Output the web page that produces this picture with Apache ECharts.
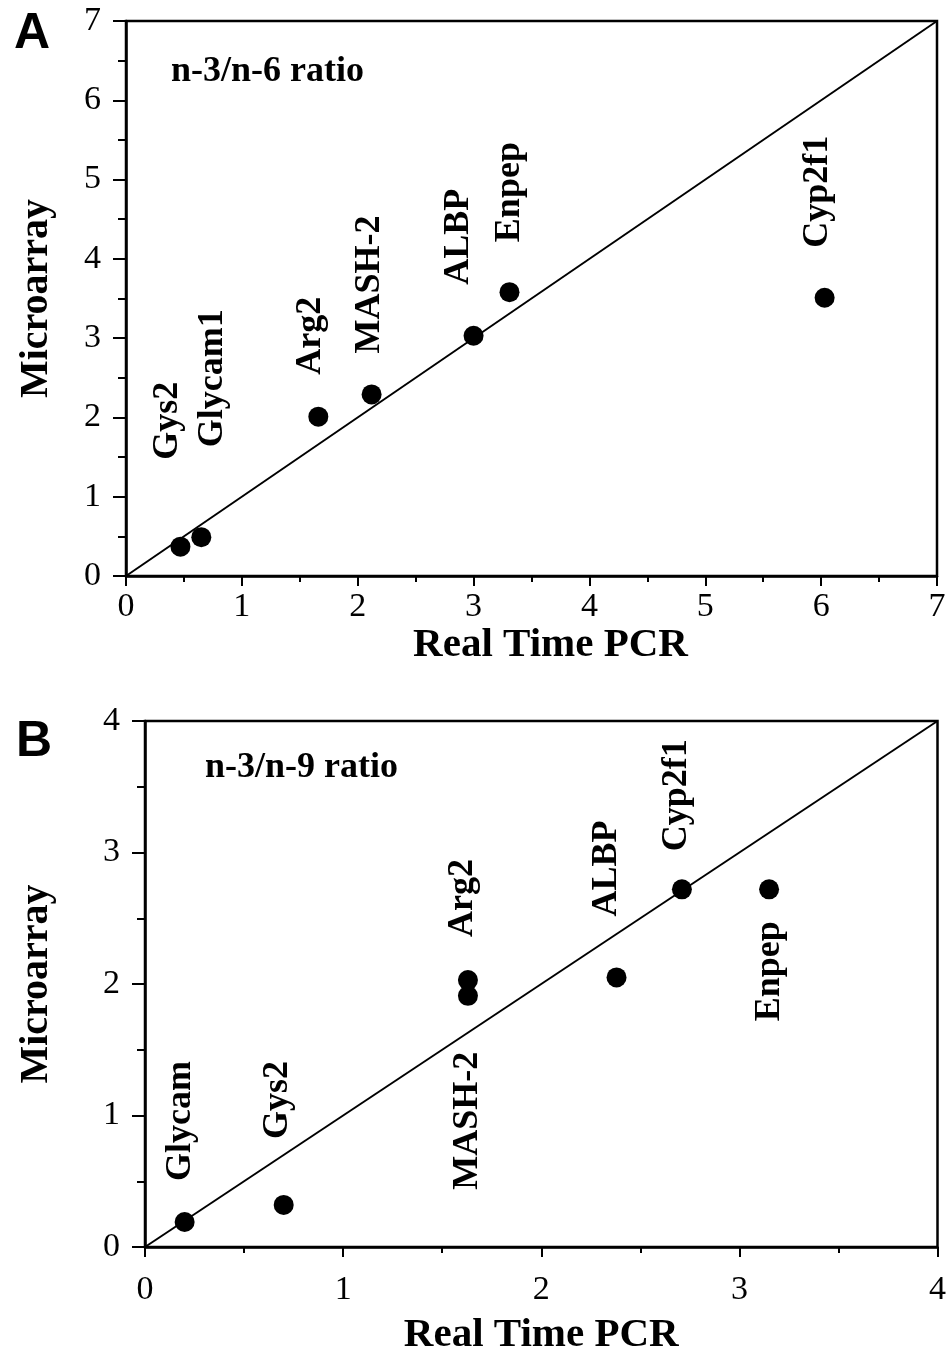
<!DOCTYPE html>
<html>
<head>
<meta charset="utf-8">
<script src="https://cdn.jsdelivr.net/npm/echarts@6/dist/echarts.min.js"></script>
<style>
html,body{margin:0;padding:0;background:#fff;}
#chart{width:949px;height:1357px;}
</style>
</head>
<body>
<div id="chart"></div>
<script>
// ---------- data ----------
const genesA = ['Gys2', 'Glycam1', 'Arg2', 'MASH-2', 'ALBP', 'Enpep', 'Cyp2f1'];
const pcrA = [0.47, 0.65, 1.66, 2.12, 3.00, 3.31, 6.03];
const microA = [0.37, 0.49, 2.01, 2.29, 3.03, 3.58, 3.51];
const identityA = [0, 7];

const genesB = ['Glycam', 'Gys2', 'Arg2', 'MASH-2', 'ALBP', 'Cyp2f1', 'Enpep'];
const pcrB = [0.20, 0.70, 1.63, 1.63, 2.38, 2.71, 3.15];
const microB = [0.19, 0.32, 2.03, 1.91, 2.05, 2.72, 2.72];
const identityB = [0, 4];

const titleA = 'n-3/n-6 ratio';
const titleB = 'n-3/n-9 ratio';
const xTitle = 'Real Time PCR';
const yTitle = 'Microarray';

// ---------- layout (label placement relative to dot centre, px) ----------
const SYM = 20;
const labelPlaceA = {
  'Gys2': [-13, -87, 'up'], 'Glycam1': [11, -90, 'up'], 'Arg2': [-8, -42, 'up'],
  'MASH-2': [-2, -41, 'up'], 'ALBP': [-15, -51, 'up'], 'Enpep': [0, -50, 'up'],
  'Cyp2f1': [-7, -50, 'up']
};
const labelPlaceB = {
  'Glycam': [-4, -41, 'up'], 'Gys2': [-6, -66, 'up'], 'Arg2': [-5, -43, 'up'],
  'MASH-2': [0, 56, 'down'], 'ALBP': [-10, -61, 'up'], 'Cyp2f1': [-5, -38, 'up'],
  'Enpep': [1, 32, 'down']
};

const SERIF = '"Liberation Serif", "Times New Roman", serif';
const SANS = '"Liberation Sans", Arial, sans-serif';

function points(names, xs, ys, place) {
  return names.map((n, i) => {
    const p = place[n];
    return {
      name: n,
      value: [xs[i], ys[i]],
      label: {
        show: true,
        formatter: n,
        position: [SYM / 2 + p[0], SYM / 2 + p[1]],
        rotate: 90,
        align: p[2] === 'up' ? 'left' : 'right',
        verticalAlign: 'middle',
        fontFamily: SERIF,
        fontWeight: 'bold',
        fontSize: 36,
        color: '#000'
      }
    };
  });
}

function xAxisCfg(gridIndex, max, nameGap, namePad, labelMargin) {
  return {
    gridIndex, type: 'value', min: 0, max, interval: 1,
    name: xTitle, nameLocation: 'middle', nameGap,
    nameTextStyle: { fontFamily: SERIF, fontWeight: 'bold', fontSize: 41, color: '#000', padding: namePad },
    axisLine: { show: true, onZero: false, lineStyle: { color: '#000', width: 2.5 } },
    axisTick: { show: true, inside: false, length: 10, lineStyle: { color: '#000', width: 2 } },
    minorTick: { show: true, splitNumber: 2, length: 6, lineStyle: { color: '#000', width: 2 } },
    splitLine: { show: false },
    axisLabel: { fontFamily: SERIF, fontSize: 34, color: '#000', margin: labelMargin }
  };
}
function yAxisCfg(gridIndex, max, nameGap) {
  return {
    gridIndex, type: 'value', min: 0, max, interval: 1,
    name: yTitle, nameLocation: 'middle', nameGap,
    nameTextStyle: { fontFamily: SERIF, fontWeight: 'bold', fontSize: 40, color: '#000' },
    axisLine: { show: true, onZero: false, lineStyle: { color: '#000', width: 2.5 } },
    axisTick: { show: true, inside: false, length: 13, lineStyle: { color: '#000', width: 2 } },
    minorTick: { show: true, splitNumber: 2, length: 8, lineStyle: { color: '#000', width: 2 } },
    splitLine: { show: false },
    axisLabel: { fontFamily: SERIF, fontSize: 34, color: '#000', margin: 25 }
  };
}

const chart = echarts.init(document.getElementById('chart'), null, { renderer: 'canvas' });
chart.setOption({
  backgroundColor: '#fff',
  animation: false,
  title: [
    { text: 'A', left: 9, top: 4, textStyle: { fontFamily: SANS, fontWeight: 'bold', fontSize: 50, color: '#000' } },
    { text: 'B', left: 11, top: 712, textStyle: { fontFamily: SANS, fontWeight: 'bold', fontSize: 50, color: '#000' } },
    { text: titleA, left: 166, top: 49, textStyle: { fontFamily: SERIF, fontWeight: 'bold', fontSize: 36, color: '#000' } },
    { text: titleB, left: 200, top: 745, textStyle: { fontFamily: SERIF, fontWeight: 'bold', fontSize: 36, color: '#000' } }
  ],
  grid: [
    { left: 126, top: 21, width: 811, height: 555, show: true, borderColor: '#000', borderWidth: 2.5, backgroundColor: 'transparent' },
    { left: 145, top: 721, width: 795, height: 535, show: true, borderColor: '#000', borderWidth: 2.5, backgroundColor: 'transparent' }
  ],
  xAxis: [
    xAxisCfg(0, 7, 47, [0, 0, 0, 38], 14),
    xAxisCfg(1, 4, 68, [0, 0, 0, 0], 26)
  ],
  yAxis: [
    yAxisCfg(0, 7, 69),
    yAxisCfg(1, 4, 88)
  ],
  series: [
    {
      type: 'line', xAxisIndex: 0, yAxisIndex: 0, symbol: 'none', silent: true,
      data: [[identityA[0], identityA[0]], [identityA[1], identityA[1]]],
      lineStyle: { color: '#000', width: 2 }, z: 2
    },
    {
      type: 'scatter', xAxisIndex: 0, yAxisIndex: 0, symbol: 'circle', symbolSize: SYM,
      itemStyle: { color: '#000', opacity: 1 }, z: 3,
      data: points(genesA, pcrA, microA, labelPlaceA)
    },
    {
      type: 'line', xAxisIndex: 1, yAxisIndex: 1, symbol: 'none', silent: true,
      data: [[identityB[0], identityB[0]], [identityB[1], identityB[1]]],
      lineStyle: { color: '#000', width: 2 }, z: 2
    },
    {
      type: 'scatter', xAxisIndex: 1, yAxisIndex: 1, symbol: 'circle', symbolSize: SYM,
      itemStyle: { color: '#000', opacity: 1 }, z: 3,
      data: points(genesB, pcrB, microB, labelPlaceB)
    }
  ]
});
</script>
</body>
</html>
